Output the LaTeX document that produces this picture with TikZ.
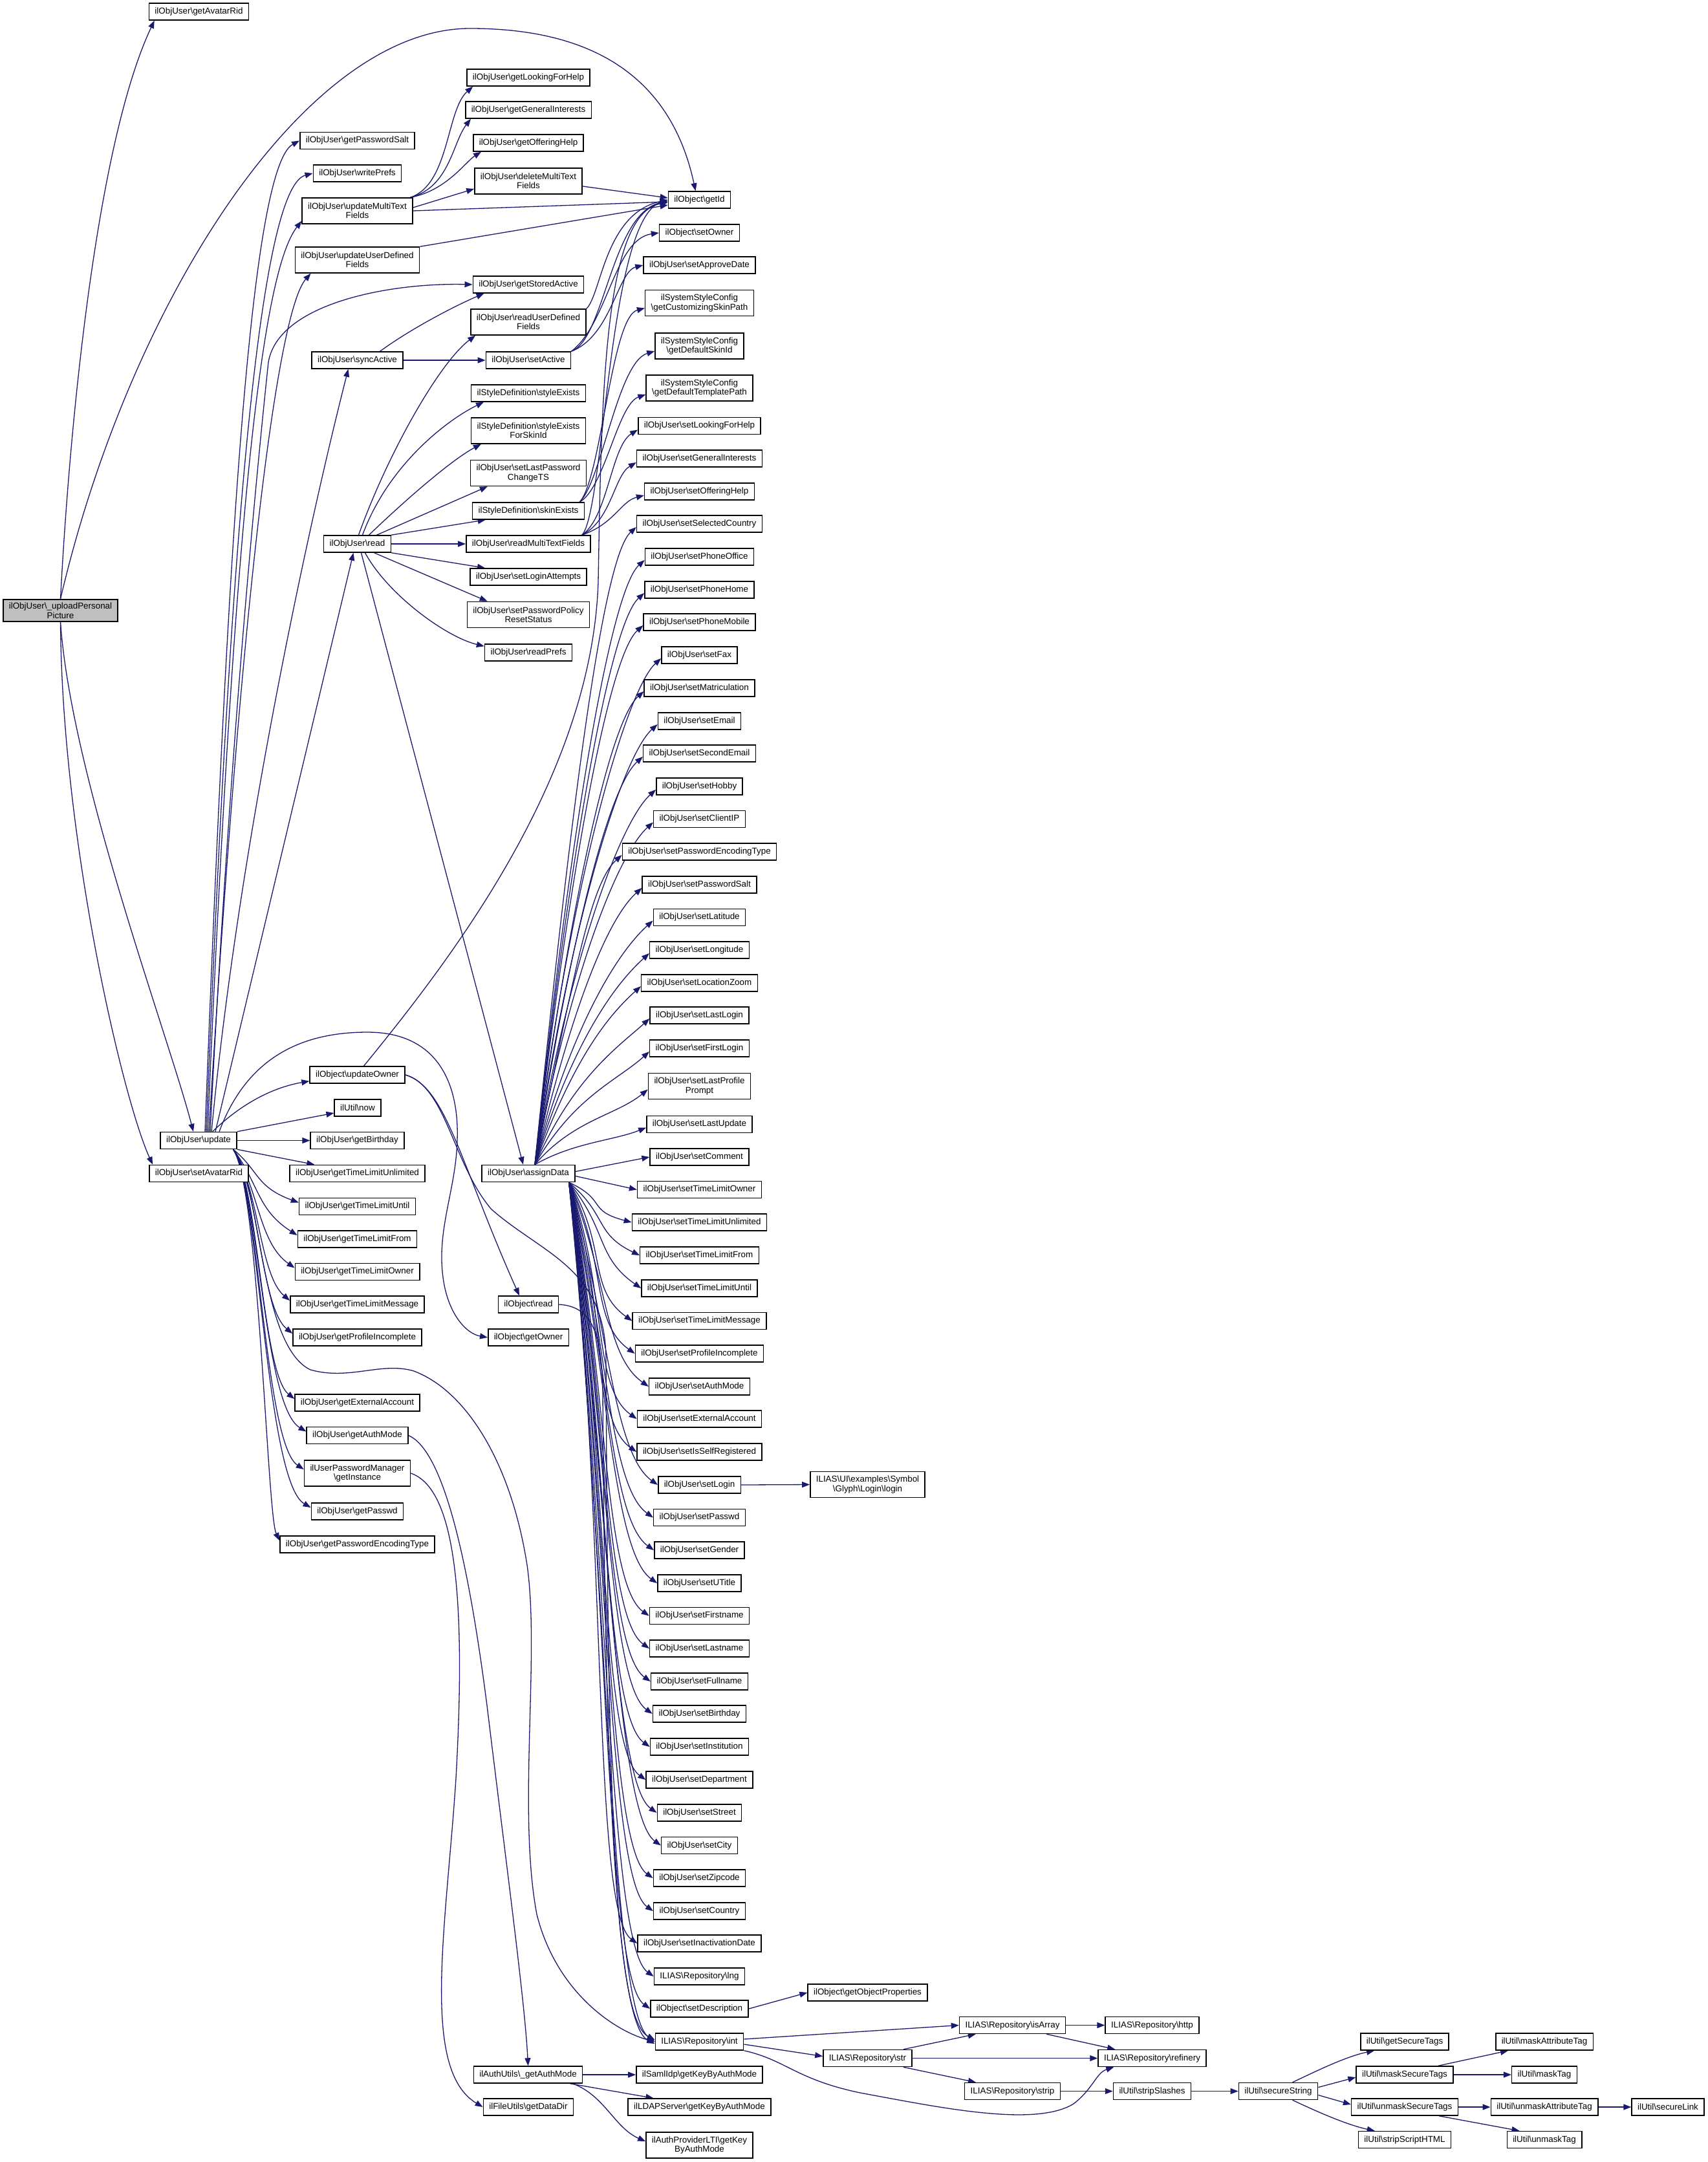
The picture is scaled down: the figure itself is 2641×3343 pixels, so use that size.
\documentclass[tikz,border=0pt]{standalone}
\usepackage{fontspec}
\setmainfont{Liberation Sans}
\usetikzlibrary{arrows.meta,backgrounds,calc}
\definecolor{eb}{HTML}{191970}
\newcommand\bsx{\textbackslash{}}
\newcommand\fnt{\fontsize{13.4pt}{14.4pt}\selectfont}
\begin{document}
\begin{tikzpicture}[x=1pt,y=-1pt,
  nd/.style={draw=black,line width=1.5pt,fill=white,font=\fnt,inner xsep=9pt,inner ysep=5pt,minimum height=26pt,align=center},
  nd2/.style={nd,minimum height=40pt},
  e/.style={draw=eb,line width=1.3pt,-{Triangle[length=12pt,width=9pt]}}]
\path[use as bounding box] (0,0) rectangle (2641,3343);
% ---------- nodes ----------
\node[nd,fill=gray!50] (P) at (93.5,944) {ilObjUser\bsx\_uploadPersonal\\Picture};
\node[nd] (gar) at (307.5,18) {ilObjUser\bsx getAvatarRid};
\node[nd] (upd) at (307,1763.5) {ilObjUser\bsx update};
\node[nd] (sar) at (307.5,1814.5) {ilObjUser\bsx setAvatarRid};
% column 2
\foreach \n/\yy/\s in {gps/217.5/getPasswordSalt, wp/268/writePrefs, sync/557/syncActive, rd/841/read, gbd/1763.5/getBirthday, gtlul/1814.5/getTimeLimitUnlimited, gtlut/1865.5/getTimeLimitUntil, gtlf/1916/getTimeLimitFrom, gtlo/1966.5/getTimeLimitOwner, gtlm/2017/getTimeLimitMessage, gpi/2068/getProfileIncomplete, gea/2169/getExternalAccount, gam/2219.5/getAuthMode, gpw/2337/getPasswd, gpet/2388/getPasswordEncodingType}
  \node[nd] (\n) at (552.5,\yy) {ilObjUser\bsx\s};
\node[nd2] (umtf) at (552.5,326) {ilObjUser\bsx updateMultiText\\Fields};
\node[nd2] (uudf) at (552.5,402) {ilObjUser\bsx updateUserDefined\\Fields};
\node[nd] (uo) at (552.5,1662) {ilObject\bsx updateOwner};
\node[nd] (now) at (553,1713) {ilUtil\bsx now};
\node[nd2] (gpm) at (552.5,2278) {ilUserPasswordManager\\\bsx getInstance};
% column 3
\foreach \n/\yy/\s in {glfh/120/getLookingForHelp, ggi/170/getGeneralInterests, goh/221/getOfferingHelp, gsa/440/getStoredActive, sact/557/setActive, rmtf/841/readMultiTextFields, sla/892/setLoginAttempts, rp/1009/readPrefs, ad/1814.5/assignData}
  \node[nd] (\n) at (817,\yy) {ilObjUser\bsx\s};
\node[nd2] (dmtf) at (817,280) {ilObjUser\bsx deleteMultiText\\Fields};
\node[nd2] (rudf) at (817,498) {ilObjUser\bsx readUserDefined\\Fields};
\node[nd] (sex) at (817,608) {ilStyleDefinition\bsx styleExists};
\node[nd2] (sexs) at (817,666) {ilStyleDefinition\bsx styleExists\\ForSkinId};
\node[nd2] (slpc) at (817,731.5) {ilObjUser\bsx setLastPassword\\ChangeTS};
\node[nd] (ske) at (817,790) {ilStyleDefinition\bsx skinExists};
\node[nd2] (sppr) at (817,950.5) {ilObjUser\bsx setPasswordPolicy\\ResetStatus};
\node[nd] (ord) at (817,2017) {ilObject\bsx read};
\node[nd] (gown) at (817,2068) {ilObject\bsx getOwner};
\node[nd] (gau) at (816.5,3208) {ilAuthUtils\bsx\_getAuthMode};
\node[nd] (gdd) at (817,3258) {ilFileUtils\bsx getDataDir};
% column 4
\foreach \n/\yy/\s in {sad/410/setApproveDate, slfh/658.5/setLookingForHelp, sgi/709/setGeneralInterests, soh/760/setOfferingHelp, ssc/810/setSelectedCountry, spo/861/setPhoneOffice, sph/912/setPhoneHome, spm/962/setPhoneMobile, sfax/1013/setFax, smat/1064/setMatriculation, sem/1115/setEmail, sse/1165/setSecondEmail, shob/1216/setHobby, scip/1266.5/setClientIP, spet/1317/setPasswordEncodingType, sps/1368/setPasswordSalt, slat/1418.5/setLatitude, slon/1469/setLongitude, slz/1520/setLocationZoom, sll/1570/setLastLogin, sfl/1621/setFirstLogin, slu/1738.5/setLastUpdate, scom/1789/setComment, stlo/1839.5/setTimeLimitOwner, stlul/1890/setTimeLimitUnlimited, stlf/1941/setTimeLimitFrom, stlut/1992/setTimeLimitUntil, stlm/2042.5/setTimeLimitMessage, spi/2093/setProfileIncomplete, sam/2144/setAuthMode, sea/2194/setExternalAccount, ssr/2245/setIsSelfRegistered, slog/2296/setLogin, spw/2346.5/setPasswd, sgen/2397/setGender, sut/2448/setUTitle, sfn/2498.5/setFirstname, sln/2549/setLastname, sfun/2600/setFullname, sbd/2650/setBirthday, sins/2701/setInstitution, sdep/2752/setDepartment, sstr/2803/setStreet, scity/2853.5/setCity, szip/2904/setZipcode, scty/2955/setCountry, sinact/3005/setInactivationDate}
  \node[nd] (\n) at (1081.5,\yy) {ilObjUser\bsx\s};
\node[nd] (gid) at (1081.5,309) {ilObject\bsx getId};
\node[nd] (sown) at (1081.5,360) {ilObject\bsx setOwner};
\node[nd2] (gcsp) at (1081.5,468.5) {ilSystemStyleConfig\\\bsx getCustomizingSkinPath};
\node[nd2] (gdsi) at (1081.5,535) {ilSystemStyleConfig\\\bsx getDefaultSkinId};
\node[nd2] (gdtp) at (1081.5,600) {ilSystemStyleConfig\\\bsx getDefaultTemplatePath};
\node[nd2] (slpp) at (1081.5,1679.5) {ilObjUser\bsx setLastProfile\\Prompt};
\node[nd] (lng) at (1081.5,3056) {ILIAS\bsx Repository\bsx lng};
\node[nd] (sdesc) at (1081.5,3106) {ilObject\bsx setDescription};
\node[nd] (int) at (1081.5,3157) {ILIAS\bsx Repository\bsx int};
\node[nd] (saml) at (1081.5,3208) {ilSamlIdp\bsx getKeyByAuthMode};
\node[nd] (ldap) at (1081.5,3258) {ilLDAPServer\bsx getKeyByAuthMode};
\node[nd2] (lti) at (1081.5,3317) {ilAuthProviderLTI\bsx getKey\\ByAuthMode};
% right part
\node[nd2] (glyph) at (1341.5,2295.5) {ILIAS\bsx UI\bsx examples\bsx Symbol\\\bsx Glyph\bsx Login\bsx login};
\node[nd] (gop) at (1341.5,3081) {ilObject\bsx getObjectProperties};
\node[nd] (str) at (1341.5,3182.5) {ILIAS\bsx Repository\bsx str};
\node[nd] (isarr) at (1565.5,3131.5) {ILIAS\bsx Repository\bsx isArray};
\node[nd] (strip) at (1565.5,3233.5) {ILIAS\bsx Repository\bsx strip};
\node[nd] (http) at (1781.5,3131.5) {ILIAS\bsx Repository\bsx http};
\node[nd] (ref) at (1781.5,3182.5) {ILIAS\bsx Repository\bsx refinery};
\node[nd] (ssl) at (1781.5,3233.5) {ilUtil\bsx stripSlashes};
\node[nd] (sst) at (1976.5,3233.5) {ilUtil\bsx secureString};
\node[nd] (gst) at (2172,3157) {ilUtil\bsx getSecureTags};
\node[nd] (mst) at (2172,3208) {ilUtil\bsx maskSecureTags};
\node[nd] (umst) at (2172,3258) {ilUtil\bsx unmaskSecureTags};
\node[nd] (ssh) at (2172,3308.5) {ilUtil\bsx stripScriptHTML};
\node[nd] (mat) at (2388,3157) {ilUtil\bsx maskAttributeTag};
\node[nd] (mtag) at (2388,3208) {ilUtil\bsx maskTag};
\node[nd] (umat) at (2388,3258) {ilUtil\bsx unmaskAttributeTag};
\node[nd] (umt) at (2388,3308.5) {ilUtil\bsx unmaskTag};
\node[nd] (secl) at (2579,3258) {ilUtil\bsx secureLink};
% ---------- edges ----------
\begin{scope}[on background layer]
\fill[white] (0,0) rectangle (2641,3343);
% from _uploadPersonalPicture
\draw[e] (P.north) .. controls (108,650) and (150,220) .. ([xshift=9pt]gar.south west);
\draw[e] (P.north) .. controls (200,470) and (470,44) .. (727,44) .. controls (930,44) and (1040,130) .. ([xshift=-6pt]gid.north);
\draw[e] (P.south) .. controls (110,1200) and (260,1600) .. ([xshift=-8pt]upd.north);
\draw[e] (P.south) .. controls (96,1300) and (190,1700) .. ([xshift=6pt]sar.north west);
% from update, upwards
\draw[e] ([xshift=10pt]upd.north) .. controls (350,900) and (385,260) .. (gps.west);
\draw[e] ([xshift=12pt]upd.north) .. controls (355,850) and (400,290) .. (wp.west);
\draw[e] ([xshift=14pt]upd.north) .. controls (362,800) and (405,420) .. ([yshift=5pt]umtf.south west);
\draw[e] ([xshift=16pt]upd.north) .. controls (375,900) and (430,480) .. ([xshift=25pt]uudf.south west);
\draw[e] ([xshift=18pt]upd.north) .. controls (355,1150) and (400,700) .. (415,560) .. controls (430,470) and (600,437) .. (gsa.west);
\draw[e] ([xshift=20pt]upd.north) .. controls (370,1300) and (480,800) .. ([xshift=-14pt]sync.south);
\draw[e] ([xshift=26pt]upd.north) -- ([xshift=-6pt]rd.south);
\draw[e] ([xshift=-38pt]upd.north east) .. controls (380,1700) and (430,1680) .. ([yshift=4pt]uo.south west);
\draw[e] ([xshift=32pt]upd.north) .. controls (380,1640) and (460,1596) .. (568,1596) .. controls (680,1596) and (710,1680) .. (707,1763) .. controls (705,1840) and (675,1900) .. (685,1975) .. controls (692,2030) and (720,2062) .. (gown.west);
\draw[e] (upd.north east) -- ([yshift=-8pt]now.west);
\draw[e] (upd.east) -- (gbd.west);
\draw[e] (upd.south east) -- ([xshift=39pt]gtlul.north west);
% from update, downwards
\foreach \t/\k in {gtlut/0,gtlf/2,gtlo/4,gtlm/6,gpi/8,gea/10,gam/12,gpm/14,gpw/16,gpet/18}
  \draw[e] let \p1=([xshift=-6pt]upd.south east), \p2=([yshift=6pt]\t.west) in
    (\p1) .. controls ({\x1+40pt},{\y1-min(60pt,0.4*(\y1-\y2))}) and ({395pt+\k*1pt},{\y2+min(40pt,0.3*(\y1-\y2))}) .. (\p2);
\draw[e] ([xshift=-6pt]upd.south east) .. controls (405,1830) and (400,2080) .. (480,2118) .. controls (540,2135) and (590,2105) .. (640,2120) .. controls (720,2150) and (790,2260) .. (815,2420) .. controls (835,2560) and (800,2800) .. (830,2960) .. controls (860,3080) and (950,3140) .. (int.west);
% updateMultiTextFields etc.
\draw[e] ([xshift=-4pt]umtf.north east) .. controls (695,285) and (690,170) .. ([xshift=10pt]glfh.south west);
\draw[e] ([xshift=-4pt]umtf.north east) .. controls (695,290) and (700,220) .. ([xshift=9pt]ggi.south west);
\draw[e] ([xshift=-4pt]umtf.north east) .. controls (690,295) and (720,250) .. ([xshift=13pt]goh.south west);
\draw[e] ([yshift=5pt]umtf.east) -- ([yshift=-12pt]dmtf.west);
\draw[e] (umtf.east) -- ([yshift=-3pt]gid.west);
\draw[e] ([yshift=-8pt]dmtf.east) -- ([yshift=3pt]gid.west);
\draw[e] (uudf.north east) -- ([yshift=-8pt]gid.west);
% syncActive, setActive, readUserDefinedFields
\draw[e] ([xshift=35pt]sync.north) .. controls (640,505) and (710,470) .. ([xshift=18pt]gsa.south west);
\draw[e] (sync.east) -- (sact.west);
\draw[e] (sact.north east) .. controls (935,525) and (945,330) .. ([yshift=-2pt]gid.west);
\draw[e] (sact.north east) .. controls (940,500) and (950,370) .. (sown.west);
\draw[e] (sact.north east) .. controls (945,520) and (955,420) .. (sad.west);
\draw[e] (rudf.north east) .. controls (930,455) and (935,330) .. (gid.west);
% read
\draw[e] ([xshift=2pt]rd.north) .. controls (600,700) and (680,560) .. ([xshift=8pt]rudf.south west);
\draw[e] ([xshift=8pt]rd.north) .. controls (600,720) and (690,650) .. ([xshift=20pt]sex.south west);
\draw[e] ([xshift=18pt]rd.north) .. controls (630,770) and (700,710) .. ([xshift=16pt]sexs.south west);
\draw[e] ([xshift=30pt]rd.north) -- ([xshift=27pt]slpc.south west);
\draw[e] (rd.north east) -- ([xshift=21pt]ske.south west);
\draw[e] (rd.east) -- (rmtf.west);
\draw[e] (rd.south east) -- ([xshift=24pt]sla.north west);
\draw[e] ([xshift=26pt]rd.south) -- ([xshift=32pt]sppr.north west);
\draw[e] ([xshift=12pt]rd.south) .. controls (600,920) and (690,985) .. ([yshift=-4pt]rp.north west);
\draw[e] ([xshift=6pt]rd.south) -- ([xshift=-8pt]ad.north);
% skinExists, readMultiTextFields
\draw[e] ([xshift=-8pt]ske.north east) .. controls (930,740) and (945,490) .. ([yshift=-8pt]gcsp.west);
\draw[e] ([xshift=-8pt]ske.north east) .. controls (930,745) and (955,560) .. ([yshift=-8pt]gdsi.west);
\draw[e] ([xshift=-8pt]ske.north east) .. controls (935,755) and (955,625) .. ([yshift=-10pt]gdtp.west);
\draw[e] ([xshift=-14pt]rmtf.north east) .. controls (940,800) and (945,690) .. ([yshift=-6pt]slfh.west);
\draw[e] ([xshift=-14pt]rmtf.north east) .. controls (945,805) and (950,735) .. ([yshift=-6pt]sgi.west);
\draw[e] ([xshift=-14pt]rmtf.north east) .. controls (950,810) and (960,775) .. ([yshift=-6pt]soh.west);
\draw[e] ([xshift=-14pt]rmtf.north east) .. controls (935,790) and (940,340) .. (gid.west);
% updateOwner, ilObject::read
\draw[e] ([xshift=10pt]uo.north) .. controls (700,1480) and (915,1200) .. (925,900) .. controls (930,600) and (935,330) .. ([yshift=-4pt]gid.west);
\draw[e] (uo.east) .. controls (690,1680) and (712,1800) .. ([xshift=-14pt]ord.north);
\draw[e] (uo.east) .. controls (690,1680) and (700,1800) .. (760,1870) .. controls (840,1940) and (935,1960) .. (937,2100) .. controls (940,2700) and (945,3120) .. ([yshift=3pt]int.west);
\draw[e] (ord.east) .. controls (915,2020) and (930,2060) .. (932,2150) .. controls (935,2700) and (950,3130) .. ([yshift=-3pt]int.west);
% assignData fan
\foreach \t in {ssc,spo,sph,spm,sfax,smat,sem,sse,shob,scip,spet,sps,slat,slon,slz,sll,sfl,slpp,slu}
  \draw[e] let \p1=([xshift=10pt]ad.north), \p2=([yshift=-5pt]\t.west) in
    (\p1) .. controls ({\x1+60pt},{\y1+0.6*(\y2-\y1)}) and ({\x2-50pt},{\y2-min(45pt,0.35*(\y2-\y1))}) .. (\p2);
\draw[e] ([yshift=3pt]ad.east) -- (scom.west);
\draw[e] ([yshift=-4pt]ad.east) -- (stlo.west);
\foreach \t in {stlul,stlf,stlut,stlm,spi,sam,sea,ssr,slog,spw,sgen,sut,sfn,sln,sfun,sbd,sins,sdep,sstr,scity,szip,scty,sinact,lng,sdesc,int}
  \draw[e] let \p1=([xshift=-10pt]ad.south east), \p2=(\t.west) in
    (\p1) .. controls ({\x1+60pt},{\y1-0.45*(\y1-\y2)}) and ({\x2-70pt},{\y2+min(50pt,0.3*(\y1-\y2))}) .. (\p2);
% getAuthMode, getInstance
\draw[e] (gam.east) .. controls (680,2240) and (720,2380) .. (753,2637) .. controls (785,2900) and (812,3100) .. (gau.north);
\draw[e] (gpm.east) .. controls (700,2300) and (722,2450) .. (705,2750) .. controls (690,2980) and (650,3200) .. (gdd.west);
\draw[e] (gau.east) -- (saml.west);
\draw[e] ([xshift=-20pt]gau.south east) -- ([xshift=40pt]ldap.north west);
\draw[e] ([xshift=-16pt]gau.south east) .. controls (935,3240) and (950,3290) .. ([yshift=6pt]lti.west);
% right part
\draw[e] (slog.east) -- (glyph.west);
\draw[e] (sdesc.east) -- (gop.west);
\draw[e] ([yshift=4pt]int.east) -- (isarr.west);
\draw[e] ([yshift=-4pt]int.east) -- ([yshift=3pt]str.west);
\draw[e] (int.south east) .. controls (1215,3185) and (1230,3215) .. (1330,3236) .. controls (1450,3258) and (1600,3290) .. (1660,3253) .. controls (1690,3230) and (1695,3205) .. ([xshift=25pt]ref.south west);
\draw[e] ([xshift=-14pt]str.north east) -- ([xshift=26pt]isarr.south west);
\draw[e] (str.east) -- (ref.west);
\draw[e] ([xshift=-14pt]str.south east) -- ([xshift=18pt]strip.north west);
\draw[e] (isarr.east) -- (http.west);
\draw[e] ([xshift=-30pt]isarr.south east) -- ([xshift=27pt]ref.north west);
\draw[e] (strip.east) -- (ssl.west);
\draw[e] (ssl.east) -- (sst.west);
\draw[e] ([xshift=22pt]sst.north) .. controls (2030,3205) and (2080,3180) .. ([xshift=22pt]gst.south west);
\draw[e] ([yshift=6pt]sst.east) -- ([yshift=-4pt]mst.west);
\draw[e] ([yshift=-6pt]sst.east) -- ([yshift=4pt]umst.west);
\draw[e] ([xshift=22pt]sst.south) .. controls (2030,3262) and (2080,3285) .. ([xshift=26pt]ssh.north west);
\draw[e] ([xshift=-24pt]mst.north east) -- ([xshift=20pt]mat.south west);
\draw[e] (mst.east) -- (mtag.west);
\draw[e] (umst.east) -- (umat.west);
\draw[e] ([xshift=-30pt]umst.south east) -- ([xshift=20pt]umt.north west);
\draw[e] (umat.east) -- (secl.west);
\end{scope}
\end{tikzpicture}
\end{document}
